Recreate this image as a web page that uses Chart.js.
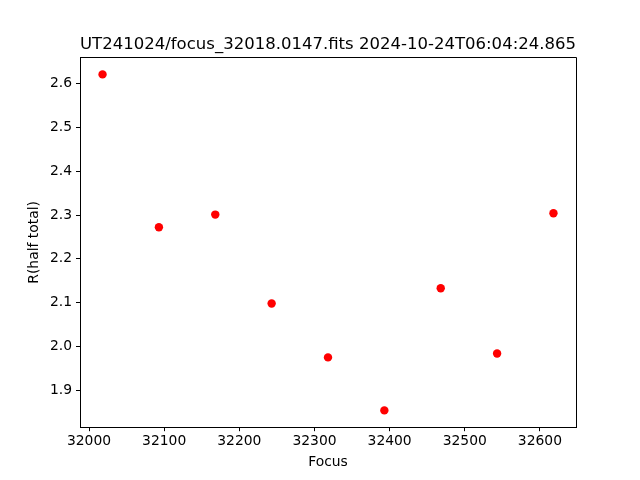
<!DOCTYPE html>
<html lang="en">
<head>
  <meta charset="UTF-8">
  <title>Focus run</title>
  <script src="https://cdn.jsdelivr.net/npm/chart.js"></script>
  <style>
    body { margin: 0; background: #ffffff; }
    #wrap { width: 640px; height: 480px; }
  </style>
</head>
<body>
<div id="wrap"><canvas id="focusChart" width="640" height="480"></canvas></div>
<script>
  // values
  const focus = [32018, 32093, 32168, 32243, 32318, 32393, 32468, 32543, 32618];
  const rHalf = [2.621, 2.272, 2.301, 2.098, 1.975, 1.854, 2.133, 1.984, 2.304];
  const xTicks = [32000, 32100, 32200, 32300, 32400, 32500, 32600];
  const yTicks = [1.9, 2.0, 2.1, 2.2, 2.3, 2.4, 2.5, 2.6];

  // matplotlib style 5% margins
  function limits(arr) {
    const lo = Math.min(...arr), hi = Math.max(...arr);
    const m = (hi - lo) * 0.05;
    return [lo - m, hi + m];
  }
  const [xMin, xMax] = limits(focus);
  const [yMin, yMax] = limits(rHalf);

  const font = { family: 'DejaVu Sans', size: 13.89 };

  // top and right edges of the axes box
  const frame = {
    id: 'frame',
    afterDraw(chart) {
      const a = chart.chartArea, ctx = chart.ctx;
      const al = p => Math.round(p - 0.5) + 0.5;
      ctx.save();
      ctx.strokeStyle = '#000';
      ctx.lineWidth = 1;
      ctx.beginPath();
      ctx.moveTo(al(a.left), al(a.top));
      ctx.lineTo(al(a.right), al(a.top));
      ctx.lineTo(al(a.right), al(a.bottom));
      ctx.stroke();
      ctx.restore();
    }
  };

  new Chart(document.getElementById('focusChart'), {
    type: 'scatter',
    data: {
      datasets: [{
        data: focus.map((f, i) => ({ x: f, y: rHalf[i] })),
        backgroundColor: '#ff0000',
        borderColor: '#ff0000',
        pointRadius: 4.2,
        pointBorderWidth: 0
      }]
    },
    options: {
      responsive: false,
      animation: false,
      layout: { padding: { left: 0, right: 64, top: 0, bottom: 0 } },
      plugins: {
        legend: { display: false },
        tooltip: { enabled: false },
        title: {
          display: true,
          fullSize: false,
          text: 'UT241024/focus_32018.0147.fits 2024-10-24T06:04:24.865',
          color: '#000',
          font: { family: 'DejaVu Sans', size: 16.67, weight: 'normal', lineHeight: 1.2 },
          padding: { top: 34.6, bottom: 3 }
        }
      },
      scales: {
        x: {
          type: 'linear',
          min: xMin,
          max: xMax,
          afterBuildTicks: s => { s.ticks = xTicks.map(v => ({ value: v })); },
          afterFit: s => { s.height = 52.8; },
          ticks: { color: '#000', font: font, padding: 2, maxRotation: 0,
                   callback: v => String(v) },
          grid: { drawOnChartArea: false, color: '#000', tickLength: 4 },
          border: { color: '#000', width: 1 },
          title: { display: true, text: 'Focus', color: '#000',
                   font: { family: 'DejaVu Sans', size: 13.89, lineHeight: 1.2 },
                   padding: { top: 0, bottom: 9 } }
        },
        y: {
          type: 'linear',
          min: yMin,
          max: yMax,
          afterBuildTicks: s => { s.ticks = yTicks.map(v => ({ value: v })); },
          afterFit: s => { s.width = 80; },
          ticks: { color: '#000', font: font, padding: 4,
                   callback: v => v.toFixed(1) },
          grid: { drawOnChartArea: false, color: '#000', tickLength: 4 },
          border: { color: '#000', width: 1 },
          title: { display: true, text: 'R(half total)', color: '#000',
                   font: { family: 'DejaVu Sans', size: 13.89, lineHeight: 1.2 },
                   padding: { top: 26, bottom: 0 } }
        }
      }
    },
    plugins: [frame]
  });
</script>
</body>
</html>
